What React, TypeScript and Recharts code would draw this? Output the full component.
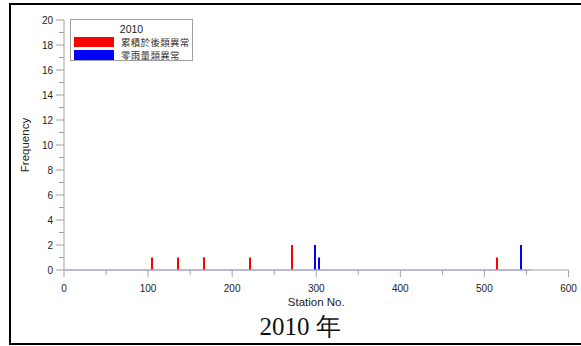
import React from "react";
import { Bar, ComposedChart, Line, XAxis, YAxis } from "recharts";

// stations flagged as "累積於後類異常" and their counts
const cumulativeStations = [105, 135, 166, 167, 221, 271, 515];
const cumulativeFreq = [1, 1, 1, 1, 1, 2, 1];

// stations flagged as "零雨量類異常"
const zeroRainStations = [298, 303, 543, 544];
const zeroRainFreq = [2, 1, 2, 2];

// first and last station of the zero-frequency baseline
const stationRange = [1, 556];

const xTicks = [0, 50, 100, 150, 200, 250, 300, 350, 400, 450, 500, 550, 600];
const yTicks = [0, 1, 2, 3, 4, 5, 6, 7, 8, 9, 10, 11, 12, 13, 14, 15, 16, 17, 18, 19, 20];

const legendTitle = "2010";
const seriesNames = ["累積於後類異常", "零雨量類異常"];
const chartTitle = "2010 年";

type Row = { station: number; cumulative?: number; zeroRain?: number; base?: number };

const rows: Row[] = [];
cumulativeStations.forEach((s, i) => rows.push({ station: s, cumulative: cumulativeFreq[i] }));
zeroRainStations.forEach((s, i) => rows.push({ station: s, zeroRain: zeroRainFreq[i] }));
stationRange.forEach(s => rows.push({ station: s, base: 0 }));
rows.sort((a, b) => a.station - b.station);

const AXIS = "#a0a0a0";
const SANS = "'Liberation Sans', Arial, sans-serif";

const XTick = (props: any) =>
{
  const { x, y, payload } = props;
  const major = payload.value % 100 === 0;
  return (
    <g>
      <line x1={x} x2={x} y1={y} y2={y + (major ? 7 : 5)} stroke={AXIS}/>
      {major && (
        <text x={x} y={y + 22} textAnchor="middle" fontSize={10} fontFamily={SANS} fill="#222">
          {payload.value}
        </text>
      )}
    </g>
  );
};

const YTick = (props: any) =>
{
  const { x, y, payload } = props;
  const major = payload.value % 2 === 0;
  return (
    <g>
      <line x1={x - (major ? 8 : 5)} x2={x} y1={y} y2={y} stroke={AXIS}/>
      {major && (
        <text x={x - 11} y={y + 3.5} textAnchor="end" fontSize={10} fontFamily={SANS} fill="#222">
          {payload.value}
        </text>
      )}
    </g>
  );
};

// thin spike centred on the station, snapped to whole pixels
const spikeShape = (color: string) => (props: any) =>
{
  const { x, y, width, height } = props;
  if(!height) return <g/>;
  const cx = x + width / 2;
  return <rect x={Math.round(cx - 1)} y={y} width={2} height={height} fill={color}/>;
};

const ChartLegend = () => (
  <div
    style={{
      position: "absolute", left: 70, top: 19, width: 123, height: 42,
      border: `1px solid ${AXIS}`, boxSizing: "border-box", background: "#fff"
    }}
  >
    <div style={{ position: "absolute", left: 0, width: 121, top: 3, textAlign: "center", fontFamily: SANS, fontSize: 10.5, color: "#222", lineHeight: "12px" }}>
      {legendTitle}
    </div>
    {seriesNames.map((name, i) => (
      <div key={name}>
        <div style={{ position: "absolute", left: 3, top: 17 + i * 12.5, width: 40, height: 10, background: i === 0 ? "#ff0000" : "#0000ff" }}/>
        <div style={{ position: "absolute", left: 50, top: 16 + i * 12.5, fontFamily: "'Noto Sans CJK TC', sans-serif", fontSize: 9.5, letterSpacing: 0.3, lineHeight: "12px", color: "#333", whiteSpace: "nowrap" }}>
          {name}
        </div>
      </div>
    ))}
  </div>
);

export default function App()
{
  return (
    <div style={{ position: "fixed", left: 0, top: 0, width: 581, height: 346, overflow: "hidden", background: "#fff" }}>
      <div style={{ position: "absolute", left: 9, top: 3, width: 600, height: 342, border: "2px solid #000", boxSizing: "border-box" }}/>
      <div style={{ position: "absolute", left: 0, top: 0 }}>
        <ComposedChart width={581} height={346} data={rows} margin={{ top: 20, right: 12.5, left: 0, bottom: 0 }}>
          <XAxis
            dataKey="station"
            type="number"
            domain={[0, 600]}
            ticks={xTicks}
            interval={0}
            height={76}
            tickSize={0}
            tickMargin={0}
            tickLine={false}
            axisLine={{ stroke: AXIS }}
            tick={<XTick/>}
            label={{ value: "Station No.", position: "insideBottom", offset: 40, fontSize: 11.5, fontFamily: SANS, fill: "#222" }}
          />
          <YAxis
            type="number"
            domain={[0, 20]}
            ticks={yTicks}
            interval={0}
            width={64}
            tickSize={0}
            tickMargin={0}
            tickLine={false}
            axisLine={{ stroke: AXIS }}
            tick={<YTick/>}
            label={{ value: "Frequency", angle: -90, position: "insideLeft", offset: 25, fontSize: 11.5, fontFamily: SANS, fill: "#222", style: { textAnchor: "middle" } }}
          />
          <Line dataKey="base" stroke="#a8a8ff" strokeWidth={1.2} dot={false} connectNulls isAnimationActive={false}/>
          <Bar dataKey="cumulative" stackId="a" fill="#ff0000" shape={spikeShape("#ff0000")} isAnimationActive={false}/>
          <Bar dataKey="zeroRain" stackId="a" fill="#0000ff" shape={spikeShape("#0000ff")} isAnimationActive={false}/>
        </ComposedChart>
      </div>
      <ChartLegend/>
      <div style={{ position: "absolute", left: 0, width: 600, top: 312, textAlign: "center", fontFamily: "'Liberation Serif', 'Times New Roman', serif", fontSize: 25, color: "#111", lineHeight: "30px" }}>
        {chartTitle}
      </div>
    </div>
  );
}
